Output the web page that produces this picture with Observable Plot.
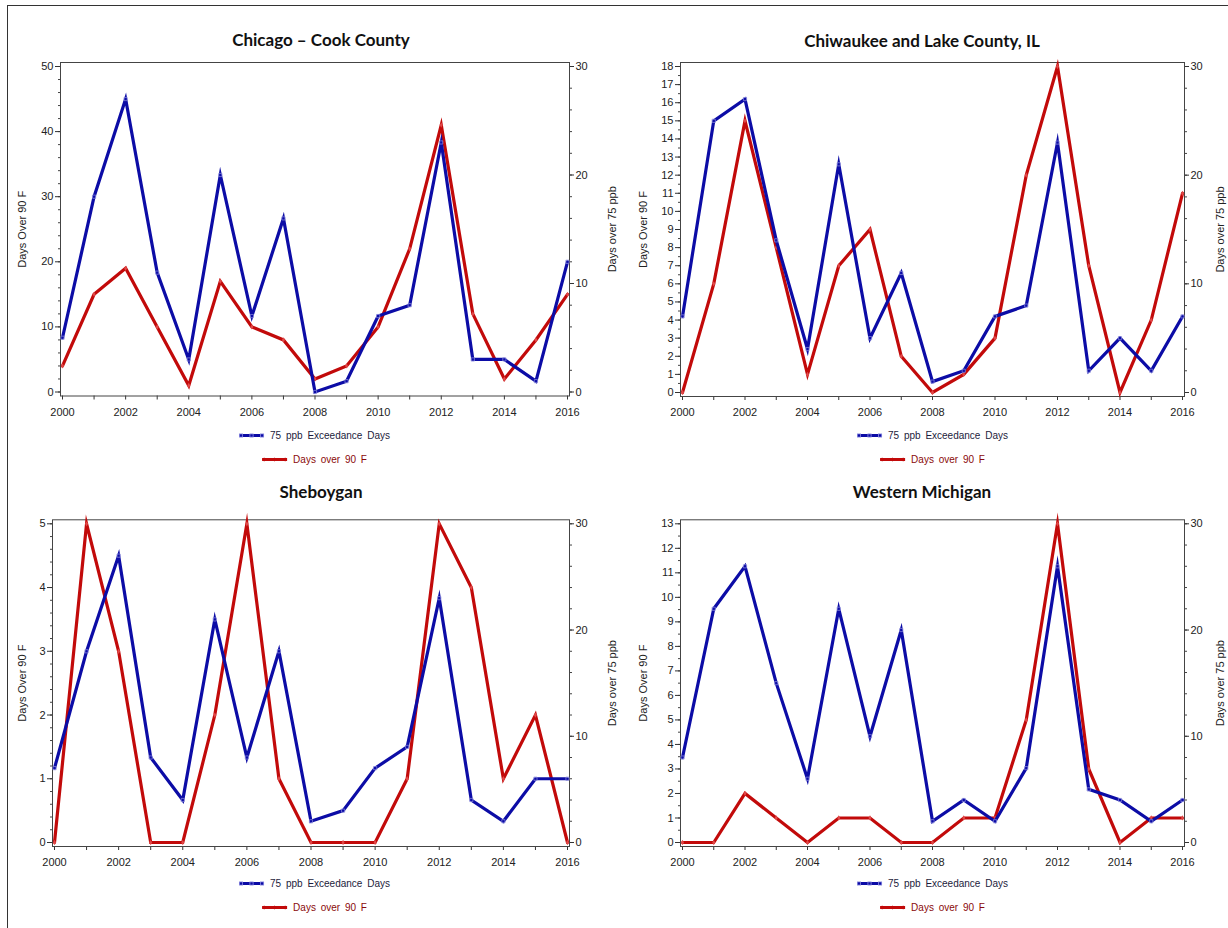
<!DOCTYPE html>
<html>
<head>
<meta charset="utf-8">
<script src="https://cdn.jsdelivr.net/npm/d3@7"></script>
<script src="https://cdn.jsdelivr.net/npm/@observablehq/plot@0.6"></script>
<style>
  html, body { margin: 0; padding: 0; background: #fff; }
  #page { position: relative; width: 1228px; height: 928px; overflow: hidden; background: #fff; }
  #border { position: absolute; left: 7px; top: 5px; right: -2px; bottom: -2px; border-top: 1.5px solid #333; border-left: 1.5px solid #333; }
  .ptitle { position: absolute; transform: translate(-50%, -50%); font-family: Lato, "Open Sans", sans-serif; font-weight: 700; font-size: 17px; color: #111; white-space: nowrap; }
  .legrow { position: absolute; transform: translate(-50%, -50%); display: flex; align-items: center; font-family: "Liberation Sans", Arial, sans-serif; font-size: 10px; white-space: nowrap; word-spacing: 2px; }
  .legrow svg { margin-right: 5px; }
  .panel { position: absolute; }
</style>
</head>
<body>
<div id="page"><div id="border"></div></div>
<script>
// ---- data ----
const years = [2000, 2001, 2002, 2003, 2004, 2005, 2006, 2007, 2008, 2009, 2010, 2011, 2012, 2013, 2014, 2015, 2016];

// Days over 90 F (left axis)
const chicagoHot   = [4, 15, 19, 10, 1, 17, 10, 8, 2, 4, 10, 22, 41, 12, 2, 8, 15];
const chiwaukeeHot = [0, 6, 15, 8, 1, 7, 9, 2, 0, 1, 3, 12, 18, 7, 0, 4, 11];
const sheboyganHot = [0, 5, 3, 0, 0, 2, 5, 1, 0, 0, 0, 1, 5, 4, 1, 2, 0];
const westMichHot  = [0, 0, 2, 1, 0, 1, 1, 0, 0, 1, 1, 5, 13, 3, 0, 1, 1];

// 75 ppb exceedance days (right axis)
const chicagoOzone   = [5, 18, 27, 11, 3, 20, 7, 16, 0, 1, 7, 8, 23, 3, 3, 1, 12];
const chiwaukeeOzone = [7, 25, 27, 14, 4, 21, 5, 11, 1, 2, 7, 8, 23, 2, 5, 2, 7];
const sheboyganOzone = [7, 18, 27, 8, 4, 21, 8, 18, 2, 3, 7, 9, 23, 4, 2, 6, 6];
const westMichOzone  = [8, 22, 26, 15, 6, 22, 10, 20, 2, 4, 2, 7, 26, 5, 4, 2, 4];

const titles = ["Chicago \u2013 Cook County", "Chiwaukee and Lake County, IL", "Sheboygan", "Western Michigan"];
const leftLabel = "Days Over 90 F";
const rightLabel = "Days over 75 ppb";
const legendOzone = "75 ppb  Exceedance  Days";
const legendHot = "Days over 90 F";
const rightTicks = [0, 10, 20, 30];
const rightMax = 30;

const RED = "#c20a0a";
const BLUE = "#0c0ca6";

const panels = [
  {title: titles[0], hot: chicagoHot, ozone: chicagoOzone, leftMax: 50, leftTicks: [0, 10, 20, 30, 40, 50], minorStep: 2,
   left: 0, top: 0, ml: 60, mr: 45, mt: 62, mb: 68.5, ldx: -38, rdx: 43, tx: 321, ty: 39, lx: 314, ly1: 435, ly2: 459},
  {title: titles[1], hot: chiwaukeeHot, ozone: chiwaukeeOzone, leftMax: 18, leftTicks: d3.range(0, 19, 1), minorStep: 0.5,
   left: 614, top: 0, ml: 66, mr: 44, mt: 62, mb: 68, ldx: -37, rdx: 36, tx: 922, ty: 40, lx: 932, ly1: 435, ly2: 459},
  {title: titles[2], hot: sheboyganHot, ozone: sheboyganOzone, leftMax: 5, leftTicks: [0, 1, 2, 3, 4, 5], minorStep: 0.2,
   left: 0, top: 464, ml: 52, mr: 45, mt: 55.3, mb: 82, ldx: -30, rdx: 43, tx: 321, ty: 491, lx: 314, ly1: 883, ly2: 907},
  {title: titles[3], hot: westMichHot, ozone: westMichOzone, leftMax: 13, leftTicks: d3.range(0, 14, 1), minorStep: 0.5,
   left: 614, top: 464, ml: 66, mr: 44, mt: 55.3, mb: 82, ldx: -37, rdx: 36, tx: 922, ty: 491, lx: 932, ly1: 883, ly2: 907}
];

const page = document.getElementById("page");
const evenYears = years.filter(y => y % 2 === 0);
const oddYears = years.filter(y => y % 2 === 1);

function legendSample(color, symbol) {
  const ns = "http://www.w3.org/2000/svg";
  const s = document.createElementNS(ns, "svg");
  s.setAttribute("width", 27); s.setAttribute("height", 8);
  let inner = `<line x1="1" y1="4" x2="26" y2="4" stroke="${color}" stroke-width="3"/>`;
  for (const cx of [3, 13.5, 24]) {
    if (symbol === "square") inner += `<rect x="${cx-1.6}" y="2.4" width="3.2" height="3.2" fill="none" stroke="#8c8ce0" stroke-width="0.8"/>`;
    else inner += `<path d="M${cx-2},4L${cx},2L${cx+2},4L${cx},6Z" fill="${color}"/>`;
  }
  s.innerHTML = inner;
  return s;
}

for (const p of panels) {
  const k = p.leftMax / rightMax;
  const hotData = years.map((year, i) => ({year, v: p.hot[i]}));
  const ozData = years.map((year, i) => ({year, v: p.ozone[i] * k}));
  const leftMinor = d3.range(0, p.leftMax + 1e-9, p.minorStep);
  const rightMinor = d3.range(0, rightMax + 1e-9, 2).map(t => t * k);

  const chart = Plot.plot({
    width: 614, height: 464,
    marginLeft: p.ml, marginRight: p.mr, marginTop: p.mt, marginBottom: p.mb,
    style: {fontFamily: "'Liberation Sans', Arial, sans-serif", fontSize: "11px", color: "#222", background: "transparent", overflow: "visible"},
    x: {domain: [2000, 2016], inset: 2},
    y: {domain: [0, p.leftMax], inset: 4},
    marks: [
      Plot.axisY(leftMinor, {anchor: "left", tickSize: 2, tickFormat: () => "", label: null, stroke: "#444"}),
      Plot.axisY(p.leftTicks, {anchor: "left", tickSize: 5, tickPadding: 2, tickFormat: d => String(d), label: null, stroke: "#333"}),
      Plot.axisY(rightMinor, {anchor: "right", tickSize: 2, tickFormat: () => "", label: null, stroke: "#444"}),
      Plot.axisY(rightTicks.map(t => t * k), {anchor: "right", tickSize: 4, tickPadding: 2, tickFormat: d => String(Math.round(d / k)), label: null, stroke: "#333"}),
      Plot.axisX(oddYears, {anchor: "bottom", tickSize: 4, tickFormat: () => "", label: null, stroke: "#333"}),
      Plot.axisX(evenYears, {anchor: "bottom", tickSize: 4, tickPadding: 8, tickFormat: d => String(d), label: null, stroke: "#333"}),
      Plot.frame({stroke: "#444", strokeWidth: 1}),
      Plot.line(hotData, {x: "year", y: "v", stroke: RED, strokeWidth: 3.2, strokeLinejoin: "miter", strokeMiterlimit: 10}),
      Plot.dot(hotData, {x: "year", y: "v", symbol: "diamond", r: 1.6, fill: "#e04848"}),
      Plot.line(ozData, {x: "year", y: "v", stroke: BLUE, strokeWidth: 3.2, strokeLinejoin: "miter", strokeMiterlimit: 10}),
      Plot.dot(ozData, {x: "year", y: "v", symbol: "square", r: 1.8, stroke: "#8080d8", strokeWidth: 0.8, fill: "none"}),
      Plot.text([leftLabel], {text: d => d, frameAnchor: "left", textAnchor: "middle", lineAnchor: "middle", dx: p.ldx, rotate: -90, fontSize: 11, fill: "#222"}),
      Plot.text([rightLabel], {text: d => d, frameAnchor: "right", textAnchor: "middle", lineAnchor: "middle", dx: p.rdx, rotate: -90, fontSize: 11, fill: "#222"})
    ]
  });
  chart.classList.add("panel");
  chart.style.left = p.left + "px";
  chart.style.top = p.top + "px";
  page.appendChild(chart);

  const t = document.createElement("div");
  t.className = "ptitle";
  t.textContent = p.title;
  t.style.left = p.tx + "px"; t.style.top = p.ty + "px";
  page.appendChild(t);

  const r1 = document.createElement("div");
  r1.className = "legrow";
  r1.style.left = p.lx + "px"; r1.style.top = p.ly1 + "px"; r1.style.color = "#1c1c3c";
  r1.appendChild(legendSample(BLUE, "square"));
  r1.appendChild(document.createTextNode(legendOzone));
  page.appendChild(r1);

  const r2 = document.createElement("div");
  r2.className = "legrow";
  r2.style.left = p.lx + "px"; r2.style.top = p.ly2 + "px"; r2.style.color = "#8a0a0a";
  r2.appendChild(legendSample(RED, "diamond"));
  r2.appendChild(document.createTextNode(legendHot));
  page.appendChild(r2);
}
</script>
</body>
</html>
